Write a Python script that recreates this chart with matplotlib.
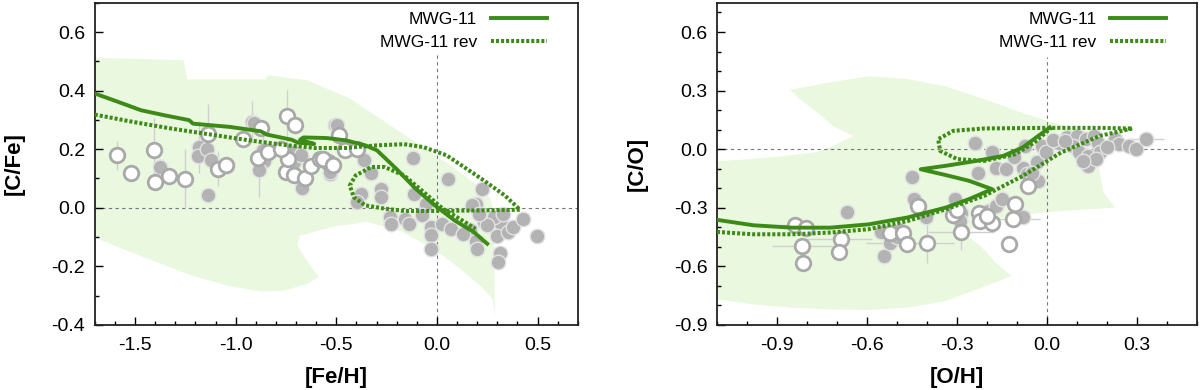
import matplotlib
import matplotlib.pyplot as plt
from matplotlib.ticker import MultipleLocator

matplotlib.use("Agg")

plt.rcParams["font.family"] = ["Liberation Sans", "DejaVu Sans"]
plt.rcParams["axes.unicode_minus"] = False

GREEN = "#3d8b17"
FILL = "#e9f8de"
GREY_FACE = "#b3b3b3"
GREY_EDGE = "#a9a9a9"

# ---------------- left panel: [C/Fe] vs [Fe/H] ----------------
fe_band_x = [-1.702, -1.26, -1.24, -0.856, -0.837, -0.644, -0.433, -0.183, 0.067, 0.202,
             0.267, 0.283, 0.288, 0.277, 0.217, 0.117, -0.017, -0.183, -0.348, -0.517,
             -0.683, -0.692, -0.654, -0.587, -0.644, -0.76, -0.875, -1.029, -1.221,
             -1.413, -1.606, -1.702]
fe_band_y = [0.512, 0.504, 0.438, 0.438, 0.452, 0.435, 0.373, 0.259, 0.145, 0.076,
             0.031, -0.026, -0.374, -0.311, -0.267, -0.209, -0.14, -0.079, -0.048, -0.065,
             -0.096, -0.129, -0.174, -0.237, -0.26, -0.283, -0.286, -0.268, -0.231,
             -0.18, -0.129, -0.1]

fe_std_x = [-1.70, -1.606, -1.471, -1.356, -1.231, -1.212, -1.029, -0.875, -0.846, -0.721,
            -0.69, -0.61, -0.68, -0.663, -0.548, -0.452, -0.356, -0.298, -0.202, -0.106,
            -0.01, 0.087, 0.183, 0.25]
fe_std_y = [0.39, 0.367, 0.333, 0.316, 0.299, 0.287, 0.276, 0.261, 0.25, 0.232,
            0.222, 0.218, 0.232, 0.24, 0.238, 0.23, 0.213, 0.196, 0.133, 0.065,
            0.008, -0.043, -0.083, -0.123]

fe_rev_x = [-1.70, -1.51, -1.317, -1.125, -0.933, -0.74, -0.606, -0.452, -0.298, -0.163,
            -0.067, 0.048, 0.221, 0.337, 0.413, 0.221, 0.0, -0.163, -0.26, -0.356,
            -0.413, -0.433, -0.404, -0.327, -0.26, -0.163, -0.067, 0.029, 0.125, 0.192]
fe_rev_y = [0.318, 0.293, 0.27, 0.25, 0.23, 0.213, 0.204, 0.204, 0.213, 0.217,
            0.207, 0.179, 0.099, 0.042, -0.007, -0.009, -0.011, -0.011, -0.003, 0.008,
            0.036, 0.076, 0.11, 0.139, 0.139, 0.11, 0.054, -0.003, -0.043, -0.072]

fe_open_x = [-1.591, -1.519, -1.408, -1.402, -1.329, -1.254, -1.136, -1.088, -1.05, -0.966,
             -0.874, -0.891, -0.841, -0.744, -0.704, -0.749, -0.711, -0.741, -0.658, -0.624,
             -0.579, -0.541, -0.774, -0.489, -0.566, -0.455, -0.396, -0.515]
fe_open_y = [0.179, 0.119, 0.196, 0.088, 0.108, 0.099, 0.253, 0.133, 0.147, 0.236,
             0.272, 0.17, 0.19, 0.312, 0.284, 0.122, 0.113, 0.167, 0.101, 0.142,
             0.167, 0.156, 0.202, 0.247, 0.167, 0.196, 0.202, 0.145]

fe_fill_x = [-1.374, -1.183, -1.186, -1.141, -1.121, -1.045, -1.136, -0.921, -0.91, -0.866,
             -0.858, -0.883, -0.708, -0.711, -0.669, -0.674, -0.533, -0.508, -0.497, -0.515,
             -0.531, -0.362, -0.328, -0.12, 0.056, 0.226, 0.192, -0.277, -0.277, -0.379,
             -0.396, -0.115, -0.055, -0.234, -0.226, -0.158, -0.137, -0.072, -0.03, -0.03,
             -0.03, 0.024, 0.072, 0.166, 0.192, 0.2, 0.268, 0.319, 0.298, 0.352,
             0.378, 0.315, 0.302, 0.43, 0.497, 0.234, 0.175, 0.285, 0.25, 0.13,
             0.21, 0.33]
fe_fill_y = [0.139, 0.207, 0.177, 0.202, 0.164, 0.142, 0.044, 0.293, 0.288, 0.196,
             0.16, 0.128, 0.156, 0.192, 0.068, 0.179, 0.116, 0.281, 0.284, 0.139,
             0.122, 0.162, 0.12, 0.17, 0.099, 0.063, 0.014, 0.065, 0.037, 0.048,
             0.019, 0.048, 0.014, -0.032, -0.055, -0.038, -0.055, -0.024, -0.066, -0.092,
             -0.14, -0.055, -0.072, -0.077, -0.115, -0.14, -0.038, -0.055, -0.095, -0.083,
             -0.066, -0.154, -0.186, -0.038, -0.095, -0.049, 0.008, -0.03, -0.06, -0.09,
             -0.02, -0.02]

fe_err_x = [-1.591, -1.408, -1.254, -1.183, -1.136, -1.088, -0.883, -0.921, -0.744, -0.866]
fe_err_y = [0.179, 0.196, 0.099, 0.207, 0.253, 0.133, 0.128, 0.293, 0.312, 0.196]
fe_err_dy = [0.05, 0.11, 0.1, 0.09, 0.1, 0.06, 0.09, 0.07, 0.09, 0.06]

# ---------------- right panel: [C/O] vs [O/H] ----------------
o_band_x = [-0.856, -0.722, -0.594, -0.465, -0.337, -0.209, -0.081, 0.0, 0.086, 0.163,
            0.169, 0.176, 0.188, 0.227, 0.112, -0.017, -0.145, -0.222, -0.281, -0.222,
            -0.171, -0.119, -0.209, -0.337, -0.465, -0.594, -0.722, -0.85, -0.978, -1.1,
            -1.1, -0.991, -0.881, -0.768, -0.714, -0.645, -0.712, -0.768, -0.824]
o_band_y = [0.304, 0.342, 0.373, 0.359, 0.321, 0.256, 0.185, 0.145, 0.106, 0.085,
            0.0, -0.12, -0.222, -0.299, -0.311, -0.325, -0.35, -0.393, -0.427, -0.496,
            -0.581, -0.65, -0.704, -0.778, -0.812, -0.824, -0.821, -0.812, -0.795, -0.769,
            -0.062, -0.051, -0.036, -0.015, 0.015, 0.067, 0.118, 0.19, 0.256]

o_std_x = [-1.10, -0.978, -0.85, -0.722, -0.594, -0.465, -0.337, -0.26, -0.183, -0.26,
           -0.337, -0.421, -0.337, -0.235, -0.145, -0.081, -0.029, 0.009]
o_std_y = [-0.362, -0.39, -0.402, -0.402, -0.385, -0.35, -0.299, -0.256, -0.205, -0.162,
           -0.133, -0.103, -0.085, -0.06, -0.034, 0.009, 0.068, 0.111]

o_rev_x = [-1.10, -0.978, -0.85, -0.722, -0.594, -0.465, -0.337, -0.209, -0.081, 0.047,
           0.176, 0.285, 0.176, 0.0, -0.209, -0.312, -0.363, -0.356, -0.299, -0.209,
           -0.106, -0.042, -0.004, 0.015]
o_rev_y = [-0.424, -0.436, -0.436, -0.427, -0.41, -0.368, -0.308, -0.239, -0.137, -0.017,
           0.068, 0.106, 0.109, 0.109, 0.106, 0.094, 0.051, -0.009, -0.051, -0.06,
           -0.026, 0.034, 0.085, 0.111]

o_open_x = [-0.84, -0.803, -0.816, -0.814, -0.688, -0.692, -0.523, -0.479, -0.468, -0.401,
            -0.429, -0.312, -0.287, -0.228, -0.222, -0.183, -0.106, -0.113, -0.126, -0.062,
            -0.3, -0.2]
o_open_y = [-0.39, -0.402, -0.496, -0.581, -0.462, -0.525, -0.427, -0.427, -0.484, -0.482,
            -0.291, -0.338, -0.424, -0.325, -0.368, -0.376, -0.282, -0.359, -0.487, -0.188,
            -0.31, -0.34]

o_fill_x = [-0.668, -0.553, -0.545, -0.507, -0.49, -0.523, -0.501, -0.451, -0.443, -0.403,
            -0.307, -0.287, -0.29, -0.241, -0.231, -0.196, -0.171, -0.151, -0.081, -0.183,
            -0.171, -0.136, -0.074, -0.081, -0.068, -0.033, -0.017, -0.029, -0.004, 0.041,
            0.067, 0.099, 0.131, 0.086, 0.105, 0.137, 0.137, 0.156, 0.169, 0.176,
            0.163, 0.227, 0.24, 0.272, 0.297, 0.329, 0.02, 0.06, 0.12, 0.2,
            -0.05, -0.11]
o_fill_y = [-0.321, -0.422, -0.547, -0.444, -0.415, -0.482, -0.448, -0.145, -0.253, -0.35,
            -0.253, -0.328, -0.368, 0.034, -0.12, -0.316, -0.291, -0.256, -0.35, -0.017,
            -0.094, -0.103, 0.017, -0.094, -0.128, -0.068, 0.017, -0.162, -0.017, 0.034,
            0.06, 0.068, 0.051, 0.017, -0.017, -0.034, -0.085, 0.068, 0.034, -0.017,
            -0.051, 0.051, 0.026, 0.017, 0.0, 0.051, 0.045, 0.04, -0.06, 0.01,
            -0.12, -0.04]

o_err_x = [-0.816, -0.692, -0.523, -0.401, -0.287, -0.113, 0.329, -0.84]
o_err_y = [-0.496, -0.462, -0.482, -0.482, -0.424, -0.359, 0.051, -0.39]
o_err_dx = [0.1, 0.11, 0.08, 0.09, 0.11, 0.09, 0.06, 0.05]
o_err_dy = [0.03, 0.04, 0.03, 0.1, 0.09, 0.04, 0.02, 0.03]


def draw_panel(ax, band_x, band_y, std_x, std_y, rev_x, rev_y,
               open_x, open_y, fill_x, fill_y, err, xlim, ylim, vtop):
    ax.fill(band_x, band_y, color=FILL, lw=0, zorder=0)
    ax.axhline(0, color="#777777", lw=0.8, ls=(0, (3, 3)), zorder=1)
    ax.plot([0, 0], [ylim[0], vtop], color="#777777", lw=0.8, ls=(0, (3, 3)), zorder=1)

    ex, ey, edx, edy = err
    ax.errorbar(ex, ey, xerr=edx, yerr=edy, fmt="none", ecolor="#d0d0d0",
                elinewidth=1, zorder=2)

    ax.plot(fill_x, fill_y, "o", ms=10.5, mfc=GREY_FACE, mec="#e2e2e2", mew=1.0,
            zorder=3)
    ax.plot(open_x, open_y, "o", ms=10.5, mfc="white", mec=GREY_EDGE, mew=2.0,
            zorder=3)

    ax.plot(std_x, std_y, color=GREEN, lw=2.8, solid_joinstyle="round",
            label="MWG-11", zorder=4)
    ax.plot(rev_x, rev_y, color=GREEN, lw=2.9, ls=(0, (0.75, 0.5)),
            dash_capstyle="butt", label="MWG-11 rev", zorder=4)

    ax.set_xlim(*xlim)
    ax.set_ylim(*ylim)
    ax.tick_params(which="both", direction="in", top=False, right=False,
                   labelsize=14, width=1.0)
    ax.tick_params(axis="x", pad=9)
    ax.tick_params(axis="y", pad=7)
    ax.tick_params(which="major", length=6)
    ax.tick_params(which="minor", length=3)
    for sp in ax.spines.values():
        sp.set_linewidth(1.3)
        sp.set_color("#222222")
    ax.legend(loc="upper right", bbox_to_anchor=(0.955, 1.0), frameon=False,
              markerfirst=False, fontsize=12.5, handlelength=3.2,
              borderaxespad=0.15, labelspacing=0.45, handletextpad=0.8)


fig = plt.figure(figsize=(12, 3.9), dpi=100)
ax1 = fig.add_axes([0.079, 0.167, 0.4025, 0.826])
ax2 = fig.add_axes([0.5975, 0.167, 0.4, 0.826])

draw_panel(ax1, fe_band_x, fe_band_y, fe_std_x, fe_std_y, fe_rev_x, fe_rev_y,
           fe_open_x, fe_open_y, fe_fill_x, fe_fill_y,
           (fe_err_x, fe_err_y, None, fe_err_dy), (-1.7, 0.7), (-0.4, 0.7), 0.52)
ax1.set_xticks([-1.5, -1.0, -0.5, 0.0, 0.5])
ax1.set_yticks([-0.4, -0.2, 0.0, 0.2, 0.4, 0.6])
ax1.xaxis.set_minor_locator(MultipleLocator(0.1))
ax1.yaxis.set_minor_locator(MultipleLocator(0.1))
ax1.set_xlabel("[Fe/H]", fontsize=16, fontweight="bold", labelpad=9)
ax1.set_ylabel("[C/Fe]", fontsize=16, fontweight="bold", labelpad=19)

draw_panel(ax2, o_band_x, o_band_y, o_std_x, o_std_y, o_rev_x, o_rev_y,
           o_open_x, o_open_y, o_fill_x, o_fill_y,
           (o_err_x, o_err_y, o_err_dx, o_err_dy), (-1.1, 0.5), (-0.9, 0.75), 0.47)
ax2.set_xticks([-0.9, -0.6, -0.3, 0.0, 0.3])
ax2.set_yticks([-0.9, -0.6, -0.3, 0.0, 0.3, 0.6])
ax2.xaxis.set_minor_locator(MultipleLocator(0.1))
ax2.yaxis.set_minor_locator(MultipleLocator(0.1))
ax2.set_xlabel("[O/H]", fontsize=16, fontweight="bold", labelpad=9)
ax2.set_ylabel("[C/O]", fontsize=16, fontweight="bold", labelpad=19)

fig.savefig("out.png", dpi=100)
plt.close(fig)
